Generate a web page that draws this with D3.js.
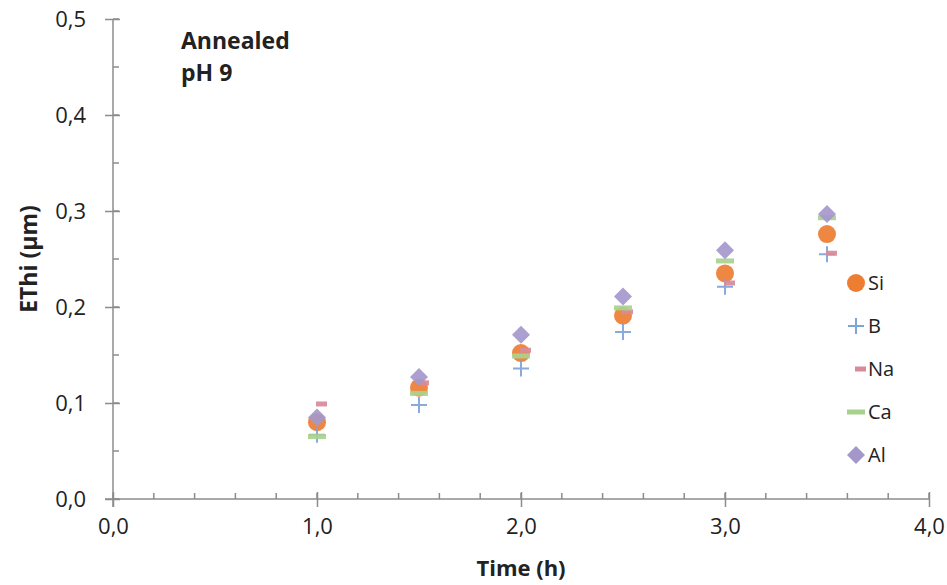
<!DOCTYPE html>
<html>
<head>
<meta charset="utf-8">
<script src="https://cdnjs.cloudflare.com/ajax/libs/d3/7.8.5/d3.min.js"></script>
<style>
  body { margin: 0; background: #fff; }
  text { font-family: "Open Sans", "Liberation Sans", sans-serif; fill: #222; }
</style>
</head>
<body>
<div id="chart"></div>
<script>
// data
var times = [1.0, 1.5, 2.0, 2.5, 3.0, 3.5];
var si = [0.080, 0.116, 0.152, 0.191, 0.235, 0.276];
var b  = [0.067, 0.098, 0.136, 0.174, 0.221, 0.255];
var na = [0.099, 0.121, 0.155, 0.195, 0.225, 0.256];
var ca = [0.065, 0.110, 0.149, 0.199, 0.248, 0.293];
var al = [0.085, 0.127, 0.171, 0.211, 0.259, 0.297];
var xTicks = [0, 1, 2, 3, 4];
var yTicks = [0, 0.1, 0.2, 0.3, 0.4, 0.5];

var series = [
  {name: "Si", values: si, shape: "circle", color: "#ED7D31"},
  {name: "B",  values: b,  shape: "plus",   color: "#7FA3D9"},
  {name: "Na", values: na, shape: "smalldash", color: "#D98A99"},
  {name: "Ca", values: ca, shape: "dash",   color: "#A9D18E"},
  {name: "Al", values: al, shape: "diamond", color: "#A498CB"}
];

var width = 947, height = 585;
var svg = d3.select("#chart").append("svg")
  .attr("width", width).attr("height", height);

var x = d3.scaleLinear().domain([0, 4]).range([113, 929]);
var y = d3.scaleLinear().domain([0, 0.5]).range([499, 19]);
var fmt = function(d){ return d3.format(".1f")(d).replace(".", ","); };
var axisColor = "#8c8c8c";

// minor ticks
svg.append("g").selectAll("line")
  .data(d3.range(0, 4.001, 0.2))
  .enter().append("line")
  .attr("x1", function(d){ return x(d); }).attr("x2", function(d){ return x(d); })
  .attr("y1", y(0) - 6).attr("y2", y(0))
  .attr("stroke", axisColor).attr("stroke-width", 1.5);
svg.append("g").selectAll("line")
  .data(d3.range(0, 0.5001, 0.05))
  .enter().append("line")
  .attr("x1", x(0)).attr("x2", x(0) + 6)
  .attr("y1", function(d){ return y(d); }).attr("y2", function(d){ return y(d); })
  .attr("stroke", axisColor).attr("stroke-width", 1.5);

// x axis
var xAxis = svg.append("g")
  .attr("transform", "translate(0," + y(0) + ")")
  .call(d3.axisBottom(x).tickValues(xTicks).tickFormat(fmt).tickSize(8).tickSizeOuter(0));
xAxis.selectAll(".tick line").attr("y1", -7);
xAxis.select(".domain").attr("d", "M" + (x(0) - 8) + ",0H" + x(4));
xAxis.selectAll("text").attr("dy", null).attr("y", 35).style("font-size", "22px");

// y axis
var yAxis = svg.append("g")
  .attr("transform", "translate(" + x(0) + ",0)")
  .call(d3.axisLeft(y).tickValues(yTicks).tickFormat(fmt).tickSize(8).tickSizeOuter(0));
yAxis.selectAll(".tick line").attr("x1", 7);
yAxis.select(".domain").attr("d", "M0," + y(0.5) + "V" + (y(0) + 8));
yAxis.selectAll("text").attr("x", -27).attr("dy", "0.35em").style("font-size", "22px");

svg.selectAll(".domain, .tick line").attr("stroke", axisColor).attr("stroke-width", 1.5);
svg.selectAll(".tick text").attr("fill", "#222").style("font-family", "'Open Sans', sans-serif");

// marker drawing
function drawMarker(g, shape, color) {
  if (shape === "circle") {
    g.append("circle").attr("r", 9).attr("fill", color);
  } else if (shape === "plus") {
    g.append("path").attr("d", "M-8,0H8M0,-8V8").attr("stroke", color).attr("stroke-width", 2);
  } else if (shape === "smalldash") {
    g.append("rect").attr("x", -1).attr("y", -2.5).attr("width", 11).attr("height", 5).attr("fill", color);
  } else if (shape === "dash") {
    g.append("rect").attr("x", -9).attr("y", -2.5).attr("width", 18).attr("height", 5).attr("fill", color);
  } else if (shape === "diamond") {
    g.append("path").attr("d", "M0,-9L9,0L0,9L-9,0Z").attr("fill", color);
  }
}

// points
series.forEach(function(s){
  var pts = svg.append("g").selectAll("g")
    .data(s.values)
    .enter().append("g")
    .attr("transform", function(d, i){ return "translate(" + x(times[i]) + "," + y(d) + ")"; })
    .attr("opacity", 0.92);
  pts.each(function(){ drawMarker(d3.select(this), s.shape, s.color); });
});

// legend
var legend = svg.append("g");
series.forEach(function(s, i){
  var ly = 283 + i * 43;
  var g = legend.append("g").attr("transform", "translate(856," + ly + ")");
  drawMarker(g, s.shape, s.color);
  legend.append("text").attr("x", 868).attr("y", ly).attr("dy", "0.35em")
    .style("font-size", "20px").text(s.name);
});

// annotation
svg.append("text").attr("x", 181).attr("y", 49)
  .style("font-size", "23px").style("font-weight", "bold").text("Annealed");
svg.append("text").attr("x", 181).attr("y", 81)
  .style("font-size", "23px").style("font-weight", "bold").text("pH 9");

// axis titles
svg.append("text").attr("x", 521).attr("y", 576).attr("text-anchor", "middle")
  .style("font-size", "22px").style("font-weight", "bold").text("Time (h)");
svg.append("text").attr("transform", "translate(37,259) rotate(-90)")
  .attr("text-anchor", "middle")
  .style("font-size", "23px").style("font-weight", "bold").text("EThi (µm)");
</script>
</body>
</html>
